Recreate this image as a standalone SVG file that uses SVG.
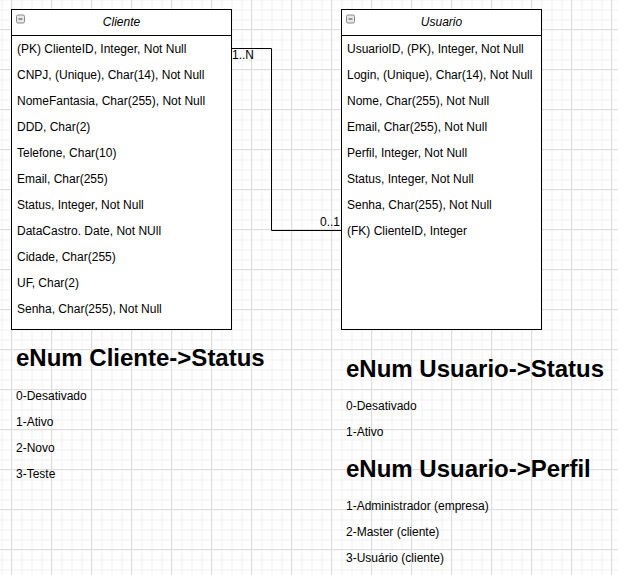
<svg xmlns="http://www.w3.org/2000/svg" width="618" height="575" viewBox="0 0 618 575">
<style>
.t{font-family:"Liberation Sans",Arial,sans-serif;font-size:12px;fill:#000}
.h{font-family:"Liberation Sans",Arial,sans-serif;font-size:24px;font-weight:bold;fill:#000}
.hdr{font-family:"Liberation Sans",Arial,sans-serif;font-size:12px;font-style:italic;fill:#000}
.box{fill:#fff;stroke:#000;stroke-width:1}
.conn{fill:none;stroke:#000;stroke-width:1}
</style>
<defs>
<pattern id="minor" x="1.5" y="9.5" width="10" height="10" patternUnits="userSpaceOnUse">
<path d="M0 0.5H10M0.5 0V10" stroke="#f1f1f1" stroke-width="1" fill="none"/>
</pattern>
<pattern id="major" x="11" y="29" width="40" height="40" patternUnits="userSpaceOnUse">
<path d="M0 0.5H40M0.5 0V40" stroke="#dedede" stroke-width="1" fill="none"/>
</pattern>
<g id="minus">
<rect x="0.5" y="0.5" width="8" height="8" rx="1.5" fill="#e8e8e8" stroke="#888"/>
<path d="M2.5 4.5H6.5" stroke="#444" stroke-width="1"/>
</g>
</defs>
<rect width="618" height="575" fill="#fff"/>
<rect width="618" height="575" fill="url(#minor)"/>
<rect width="618" height="575" fill="url(#major)"/>

<g id="connectors">
<path class="conn" d="M231.5 48.5H271.5V230.5H341.5"/>
<text class="t" x="232" y="59">1..N</text>
<text class="t" x="340" y="226" text-anchor="end">0..1</text>
</g>

<g id="cliente">
<rect class="box" x="11.5" y="9.5" width="220" height="320"/>
<path class="conn" d="M11.5 35.5H231.5"/>
<use href="#minus" x="16" y="14.5"/>
<text class="hdr" x="121.5" y="26" text-anchor="middle">Cliente</text>
<text class="t" x="17" y="53">(PK) ClienteID, Integer, Not Null</text>
<text class="t" x="17" y="79">CNPJ, (Unique), Char(14), Not Null</text>
<text class="t" x="17" y="105">NomeFantasia, Char(255), Not Null</text>
<text class="t" x="17" y="131">DDD, Char(2)</text>
<text class="t" x="17" y="157">Telefone, Char(10)</text>
<text class="t" x="17" y="183">Email, Char(255)</text>
<text class="t" x="17" y="209">Status, Integer, Not Null</text>
<text class="t" x="17" y="235">DataCastro. Date, Not NUll</text>
<text class="t" x="17" y="261">Cidade, Char(255)</text>
<text class="t" x="17" y="287">UF, Char(2)</text>
<text class="t" x="17" y="313">Senha, Char(255), Not Null</text>
</g>

<g id="usuario">
<rect class="box" x="341.5" y="9.5" width="200" height="320"/>
<path class="conn" d="M341.5 35.5H541.5"/>
<use href="#minus" x="346" y="14.5"/>
<text class="hdr" x="441.5" y="26" text-anchor="middle">Usuario</text>
<text class="t" x="347" y="53">UsuarioID, (PK), Integer, Not Null</text>
<text class="t" x="347" y="79">Login, (Unique), Char(14), Not Null</text>
<text class="t" x="347" y="105">Nome, Char(255), Not Null</text>
<text class="t" x="347" y="131">Email, Char(255), Not Null</text>
<text class="t" x="347" y="157">Perfil, Integer, Not Null</text>
<text class="t" x="347" y="183">Status, Integer, Not Null</text>
<text class="t" x="347" y="209">Senha, Char(255), Not Null</text>
<text class="t" x="347" y="235">(FK) ClienteID, Integer</text>
</g>

<g id="enum-cliente-status">
<text class="h" x="16" y="366">eNum Cliente-&gt;Status</text>
<text class="t" x="16" y="400">0-Desativado</text>
<text class="t" x="16" y="426">1-Ativo</text>
<text class="t" x="16" y="452">2-Novo</text>
<text class="t" x="16" y="478">3-Teste</text>
</g>

<g id="enum-usuario-status">
<text class="h" x="346" y="377">eNum Usuario-&gt;Status</text>
<text class="t" x="346" y="410">0-Desativado</text>
<text class="t" x="346" y="436">1-Ativo</text>
</g>

<g id="enum-usuario-perfil">
<text class="h" x="346" y="477">eNum Usuario-&gt;Perfil</text>
<text class="t" x="346" y="510">1-Administrador (empresa)</text>
<text class="t" x="346" y="536">2-Master (cliente)</text>
<text class="t" x="346" y="562">3-Usuário (cliente)</text>
</g>
</svg>
